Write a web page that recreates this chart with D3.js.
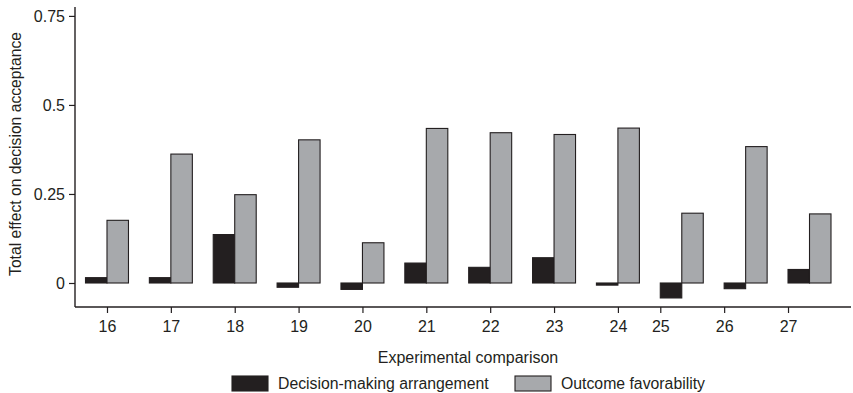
<!DOCTYPE html>
<html>
<head>
<meta charset="utf-8">
<script src="https://cdn.jsdelivr.net/npm/d3@7"></script>
<style>
  body { margin: 0; background: #fff; }
  text { font-family: "Liberation Sans", Arial, sans-serif; fill: #231f20; }
</style>
</head>
<body>
<svg id="chart"></svg>
<script>
// Values.
const comparisons = ["16", "17", "18", "19", "20", "21", "22", "23", "24", "25", "26", "27"];
const decisionArrangement = [0.015, 0.015, 0.136, -0.012, -0.018, 0.056, 0.044, 0.071, -0.006, -0.042, -0.016, 0.038];
const outcomeFavorability = [0.176, 0.362, 0.248, 0.402, 0.113, 0.434, 0.422, 0.417, 0.435, 0.196, 0.383, 0.194];
const yTickValues = [0, 0.25, 0.5, 0.75];
const yTickLabels = ["0", "0.25", "0.5", "0.75"];
// in the original the last three tick marks sit at the left edge of their group
const leftEdgeTicks = ["25", "26", "27"];
const seriesNames = ["Decision-making arrangement", "Outcome favorability"];

const WIDTH = 853;
const HEIGHT = 393;
const DARK = '#231f20';
const GREY = '#a7a9ac';

const svg = d3.select('#chart')
  .attr('width', WIDTH)
  .attr('height', HEIGHT);

const axisX = 75;      // left edge of the plot
const baseY = 307;     // bottom edge of the plot

const y = d3.scaleLinear()
  .domain([-0.0674, 0.775])
  .range([baseY, 7]);

const x0 = d3.scaleBand()
  .domain(comparisons)
  .range([85.5, 831])
  .paddingInner(0.327)
  .paddingOuter(0);

const x1 = d3.scaleBand()
  .domain([0, 1])
  .range([0, x0.bandwidth()]);

const rows = comparisons.map((c, i) => ({
  key: c,
  values: [decisionArrangement[i], outcomeFavorability[i]]
}));

// bars
const groups = svg.append('g')
  .selectAll('g')
  .data(rows)
  .join('g')
  .attr('transform', d => `translate(${x0(d.key)},0)`);

groups.selectAll('rect')
  .data(d => d.values.map((v, j) => ({ v, j })))
  .join('rect')
  .attr('x', d => x1(d.j))
  .attr('width', x1.bandwidth())
  .attr('y', d => y(Math.max(0, d.v)))
  .attr('height', d => Math.abs(y(d.v) - y(0)))
  .attr('fill', d => d.j === 0 ? DARK : GREY)
  .attr('stroke', DARK)
  .attr('stroke-width', 1.1);

// y axis
const yAxis = d3.axisLeft(y)
  .tickValues(yTickValues)
  .tickFormat((d, i) => yTickLabels[i])
  .tickSizeOuter(0)
  .tickSize(6)
  .tickPadding(4);

const gy = svg.append('g')
  .attr('transform', `translate(${axisX},0)`)
  .call(yAxis);
gy.select('.domain').remove();
gy.selectAll('line').attr('stroke', DARK).attr('stroke-width', 1.2);
gy.selectAll('text').style('font-size', '16px').attr('fill', DARK);

svg.append('line')
  .attr('x1', axisX).attr('x2', axisX)
  .attr('y1', y.range()[1]).attr('y2', baseY)
  .attr('stroke', DARK).attr('stroke-width', 1.4);

// x axis
const tickPos = d3.scaleOrdinal()
  .domain(comparisons)
  .range(comparisons.map(c => leftEdgeTicks.includes(c) ? x0(c) : x0(c) + x0.bandwidth() / 2));

const xAxis = d3.axisBottom(tickPos)
  .tickSize(6)
  .tickPadding(8)
  .tickSizeOuter(0);

const gx = svg.append('g')
  .attr('transform', `translate(0,${baseY})`)
  .call(xAxis);
gx.select('.domain').remove();
gx.selectAll('line').attr('stroke', DARK).attr('stroke-width', 1.2);
gx.selectAll('text').style('font-size', '16px').attr('fill', DARK);

svg.append('line')
  .attr('x1', axisX).attr('x2', 851)
  .attr('y1', baseY).attr('y2', baseY)
  .attr('stroke', DARK).attr('stroke-width', 1.4);

// axis titles
svg.append('text')
  .attr('x', 468)
  .attr('y', 363)
  .attr('text-anchor', 'middle')
  .style('font-size', '16px')
  .text('Experimental comparison');

svg.append('text')
  .attr('transform', 'translate(21,154) rotate(-90)')
  .attr('text-anchor', 'middle')
  .style('font-size', '15.7px')
  .text('Total effect on decision acceptance');

// legend
const legendItems = [
  { name: seriesNames[0], fill: DARK, x: 232 },
  { name: seriesNames[1], fill: GREY, x: 515 }
];
const legend = svg.append('g');
legendItems.forEach(item => {
  legend.append('rect')
    .attr('x', item.x).attr('y', 376)
    .attr('width', 36).attr('height', 15)
    .attr('fill', item.fill)
    .attr('stroke', DARK).attr('stroke-width', 1.1);
  legend.append('text')
    .attr('x', item.x + 46).attr('y', 389)
    .style('font-size', '15.8px')
    .text(item.name);
});
</script>
</body>
</html>
